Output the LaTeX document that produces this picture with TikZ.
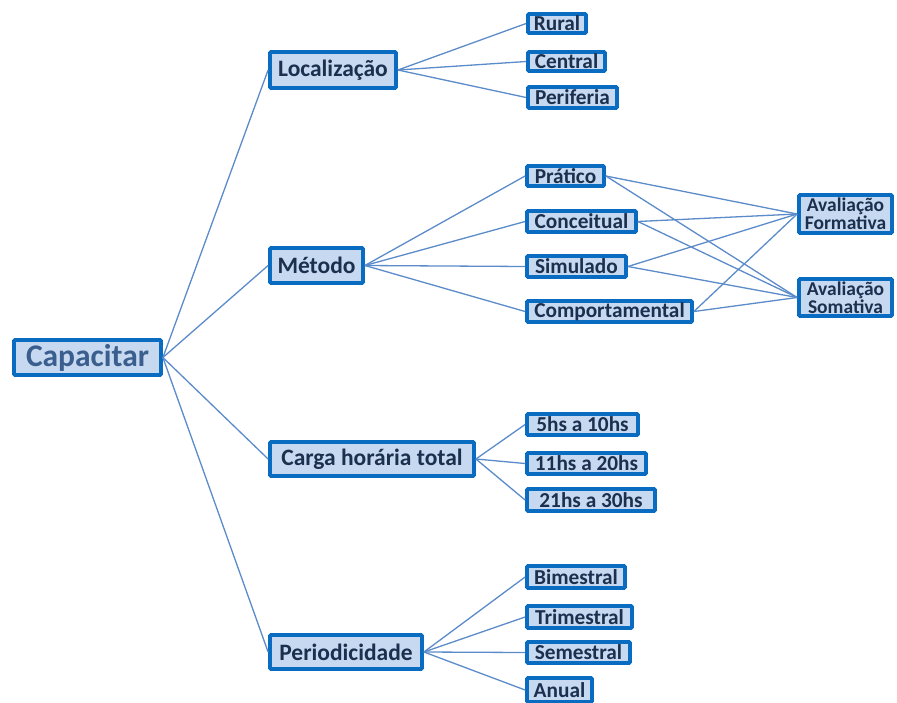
\documentclass[tikz,border=0pt]{standalone}
\usepackage{fontspec}
\setmainfont{Carlito}
\definecolor{boxfill}{HTML}{C6D9F1}
\definecolor{boxline}{HTML}{0A6CC0}
\definecolor{boxtext}{HTML}{1B2F4E}
\definecolor{roottext}{HTML}{3A5E8E}
\definecolor{edgeline}{HTML}{5B8BC9}
\tikzset{
	box/.style={draw=boxline, fill=boxfill, line width=3.8pt, inner sep=0pt, rounded corners=1pt, text=boxtext, font=\bfseries\fontsize{21.3}{21.3}\selectfont},
	mainbox/.style={box, font=\bfseries\fontsize{23.5}{23.5}\selectfont},
	edge/.style={draw=edgeline, line width=1.3pt},
}

\begin{document}
\begin{tikzpicture}[x=1pt, y=1pt]
		%%%%% START %%%%%
		\useasboundingbox (0, 0) rectangle (897, -702);
		
		\node[box, minimum width=147pt, minimum height=35pt, text=roottext, font=\bfseries\fontsize{31.5}{31.5}\selectfont] (cap) at (87.5, -357.5) {Capacitar};
		
		\node[mainbox, minimum width=126pt, minimum height=36pt] (loc) at (333, -70) {Localização};
		\node[mainbox, minimum width=93pt, minimum height=35pt] (met) at (316.5, -265.5) {Método};
		\node[mainbox, minimum width=204pt, minimum height=34pt] (carga) at (372, -459) {Carga horária total};
		\node[mainbox, minimum width=152pt, minimum height=34pt] (per) at (346, -652) {Periodicidade};
		
		\node[box, minimum width=58pt, minimum height=19pt] (rural) at (557, -23.5) {Rural};
		\node[box, minimum width=77pt, minimum height=19pt] (central) at (566.5, -61.5) {Central};
		\node[box, minimum width=89pt, minimum height=21pt] (periferia) at (572.5, -97.5) {Periferia};
		
		\node[box, minimum width=77pt, minimum height=20pt] (pratico) at (565.5, -176) {Prático};
		\node[box, minimum width=109pt, minimum height=21pt] (conceitual) at (581.5, -221.5) {Conceitual};
		\node[box, minimum width=99pt, minimum height=21pt] (simulado) at (576.5, -266.5) {Simulado};
		\node[box, minimum width=165pt, minimum height=21pt] (comport) at (609.5, -311.5) {Comportamental};
		
		\node[box, minimum width=93pt, minimum height=38pt, align=center, font=\bfseries\fontsize{19.5}{15}\selectfont] (formativa) at (845.5, -214) {Avaliação\\Formativa};
		\node[box, minimum width=93pt, minimum height=37pt, align=center, font=\bfseries\fontsize{19.5}{15}\selectfont] (somativa) at (845.5, -297.5) {Avaliação\\Somativa};
		
		\node[box, minimum width=111pt, minimum height=21pt] (h5) at (582.5, -424.5) {5hs a 10hs};
		\node[box, minimum width=119pt, minimum height=21pt] (h11) at (586.5, -463.5) {11hs a 20hs};
		\node[box, minimum width=128pt, minimum height=22pt] (h21) at (591, -500) {21hs a 30hs};
		
		\node[box, minimum width=98pt, minimum height=22pt] (bim) at (576, -577) {Bimestral};
		\node[box, minimum width=105pt, minimum height=22pt] (trim) at (579.5, -617) {Trimestral};
		\node[box, minimum width=103pt, minimum height=21pt] (sem) at (578.5, -652.5) {Semestral};
		\node[box, minimum width=65pt, minimum height=24pt] (anual) at (559.5, -690) {Anual};
		
		% root to main branches
		\draw[edge] (cap.east) -- (loc.west);
		\draw[edge] (cap.east) -- (met.west);
		\draw[edge] (cap.east) -- (carga.west);
		\draw[edge] (cap.east) -- (per.west);
		
		\draw[edge] (loc.east) -- (rural.west);
		\draw[edge] (loc.east) -- (central.west);
		\draw[edge] (loc.east) -- (periferia.west);
		
		\draw[edge] (met.east) -- (pratico.west);
		\draw[edge] (met.east) -- (conceitual.west);
		\draw[edge] (met.east) -- (simulado.west);
		\draw[edge] (met.east) -- (comport.west);
		
		% methods to evaluations
		\draw[edge] (pratico.east) -- (formativa.west);
		\draw[edge] (pratico.east) -- (somativa.west);
		\draw[edge] (conceitual.east) -- (formativa.west);
		\draw[edge] (conceitual.east) -- (somativa.west);
		\draw[edge] (simulado.east) -- (formativa.west);
		\draw[edge] (simulado.east) -- (somativa.west);
		\draw[edge] (comport.east) -- (formativa.west);
		\draw[edge] (comport.east) -- (somativa.west);
		
		\draw[edge] (carga.east) -- (h5.west);
		\draw[edge] (carga.east) -- (h11.west);
		\draw[edge] (carga.east) -- (h21.west);
		
		\draw[edge] (per.east) -- (bim.west);
		\draw[edge] (per.east) -- (trim.west);
		\draw[edge] (per.east) -- (sem.west);
		\draw[edge] (per.east) -- (anual.west);
		
		%%%%% END %%%%%
	\end{tikzpicture}
\end{document}
